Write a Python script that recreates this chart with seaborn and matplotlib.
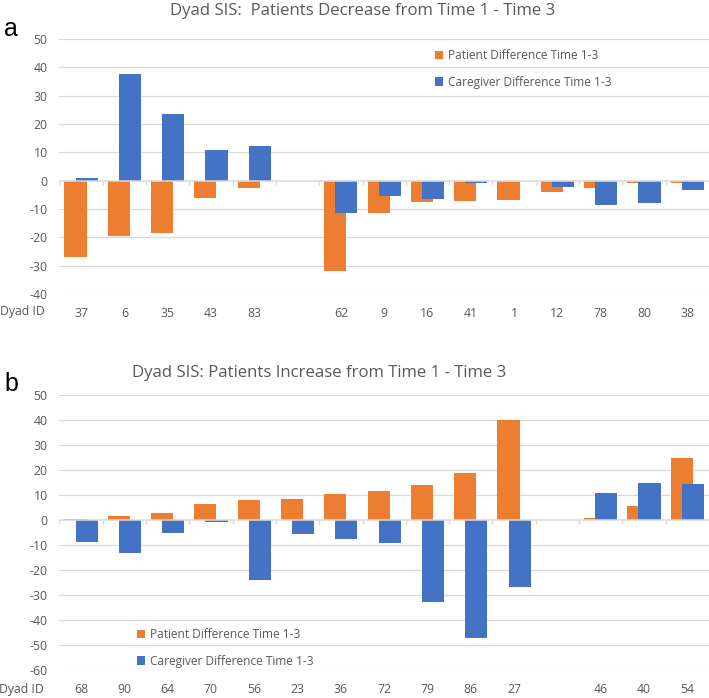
import matplotlib
matplotlib.use("Agg")
import matplotlib.pyplot as plt
import seaborn as sns
import pandas as pd
import numpy as np
from matplotlib.patches import Patch

# ---------------- data ----------------
ids_a = ["37", "6", "35", "43", "83", "", "62", "9", "16", "41", "1", "12", "78", "80", "38"]
patient_a = [-27, -19.4, -18.5, -6.2, -2.5, None, -32, -11.4, -7.6, -7.1, -6.9, -3.9, -2.5, -0.9, -0.9]
caregiver_a = [1, 37.8, 23.5, 10.8, 12.1, None, -11.3, -5.3, -6.5, -0.8, 0, -2.2, -8.6, -7.9, -3.4]

ids_b = ["68", "90", "64", "70", "56", "23", "36", "72", "79", "86", "27", "", "46", "40", "54"]
patient_b = [0.4, 1.6, 2.7, 6.4, 8.0, 8.3, 10.3, 11.7, 14.1, 18.8, 40, None, 0.9, 5.6, 24.7]
caregiver_b = [-8.9, -13.2, -5.1, -0.9, -24.1, -5.7, -7.6, -9.1, -32.8, -47.2, -26.7, None, 10.8, 14.8, 14.3]

series_names = ["Patient Difference Time 1-3", "Caregiver Difference Time 1-3"]
title_a = "Dyad SIS:  Patients Decrease from Time 1 - Time 3"
title_b = "Dyad SIS: Patients Increase from Time 1 - Time 3"
yticks_a = list(range(-40, 51, 10))
yticks_b = list(range(-60, 51, 10))

ORANGE = "#ED7D31"
BLUE = "#4472C4"
GREY_TXT = "#595959"
GRID = "#D9D9D9"

sns.set_theme(style="white")
plt.rcParams["font.family"] = ["Open Sans", "DejaVu Sans"]

W, H = 709, 698
fig = plt.figure(figsize=(W / 100, H / 100), dpi=100)


def long_df(ids, pat, care):
    rows = []
    for i, p, c in zip(ids, pat, care):
        if p is not None:
            rows.append((i, series_names[0], p))
        if c is not None:
            rows.append((i, series_names[1], c))
    return pd.DataFrame(rows, columns=["id", "series", "value"])


def draw(ax, ids, pat, care, yticks, px_per_unit):
    df = long_df(ids, pat, care)
    sns.barplot(data=df, x="id", y="value", hue="series", order=ids,
                hue_order=series_names, palette=[ORANGE, BLUE], saturation=1,
                dodge=False, width=0.51, linewidth=0, errorbar=None,
                legend=False, ax=ax, zorder=3)
    # overlapping offset (Excel style)
    for k, cont in enumerate(ax.containers):
        shift = -0.128 if k == 0 else 0.128
        for bar in cont:
            bar.set_x(bar.get_x() + shift)
    ax.set_xlim(-0.5, len(ids) - 0.5)
    ax.set_ylim(yticks[0], yticks[-1])
    ax.set_yticks(yticks)
    ax.set_yticklabels([str(t) for t in yticks])
    for s in ax.spines.values():
        s.set_visible(False)
    ax.grid(False)
    for t in yticks:
        if t != 0:
            ax.axhline(t, color=GRID, lw=0.9, zorder=1)
    ax.axhline(0, color=GRID, lw=1.1, zorder=4)
    tick_len = 4.0 / px_per_unit
    ax.vlines(np.arange(len(ids) + 1) - 0.5, -tick_len, 0, color=GRID, lw=1.0, zorder=4)
    ax.tick_params(axis="both", length=0, labelsize=8.8, colors=GREY_TXT)
    ax.tick_params(axis="x", pad=9.5)
    ax.tick_params(axis="y", pad=8.5)
    ax.set_xlabel("")
    ax.set_ylabel("")


def fx(px):
    return px / W


def fy(py):
    return 1 - py / H


ax_left = 59.4
ax_w = 649.5

# chart a
ax_a = fig.add_axes([fx(ax_left), fy(294), fx(ax_w), (294 - 39) / H])
draw(ax_a, ids_a, patient_a, caregiver_a, yticks_a, 255 / 90)

# chart b
ax_b = fig.add_axes([fx(ax_left), fy(670), fx(ax_w), (670 - 395) / H])
draw(ax_b, ids_b, patient_b, caregiver_b, yticks_b, 275 / 110)

# titles
fig.text(fx(363), fy(11), title_a, ha="center", va="center", fontsize=12.1, color=GREY_TXT)
fig.text(fx(319), fy(373), title_b, ha="center", va="center", fontsize=12.1, color=GREY_TXT)

# panel letters
fig.text(fx(4), fy(29), "a", ha="left", va="center", fontsize=18, color="black",
         family=["Liberation Sans", "DejaVu Sans"])
fig.text(fx(4), fy(384), "b", ha="left", va="center", fontsize=18, color="black",
         family=["Liberation Sans", "DejaVu Sans"])

# Dyad ID labels
fig.text(fx(0), fy(312), "Dyad ID", ha="left", va="center", fontsize=8.8, color=GREY_TXT)
fig.text(fx(-1), fy(689), "Dyad ID", ha="left", va="center", fontsize=8.8, color=GREY_TXT)

# legends
handles = [Patch(facecolor=ORANGE, edgecolor="none"), Patch(facecolor=BLUE, edgecolor="none")]
leg_kw = dict(frameon=False, handlelength=0.7, handleheight=0.7, handletextpad=0.35,
              labelspacing=1.1, borderpad=0, borderaxespad=0, fontsize=8.6,
              labelcolor=GREY_TXT, loc="center left")
leg_a = ax_a.legend(handles, series_names, bbox_to_anchor=(fx(435), fy(69)),
                    bbox_transform=fig.transFigure, **leg_kw)
leg_b = ax_b.legend(handles, series_names, bbox_to_anchor=(fx(137), fy(648)),
                    bbox_transform=fig.transFigure, **leg_kw)

fig.savefig("out.png", dpi=100)
